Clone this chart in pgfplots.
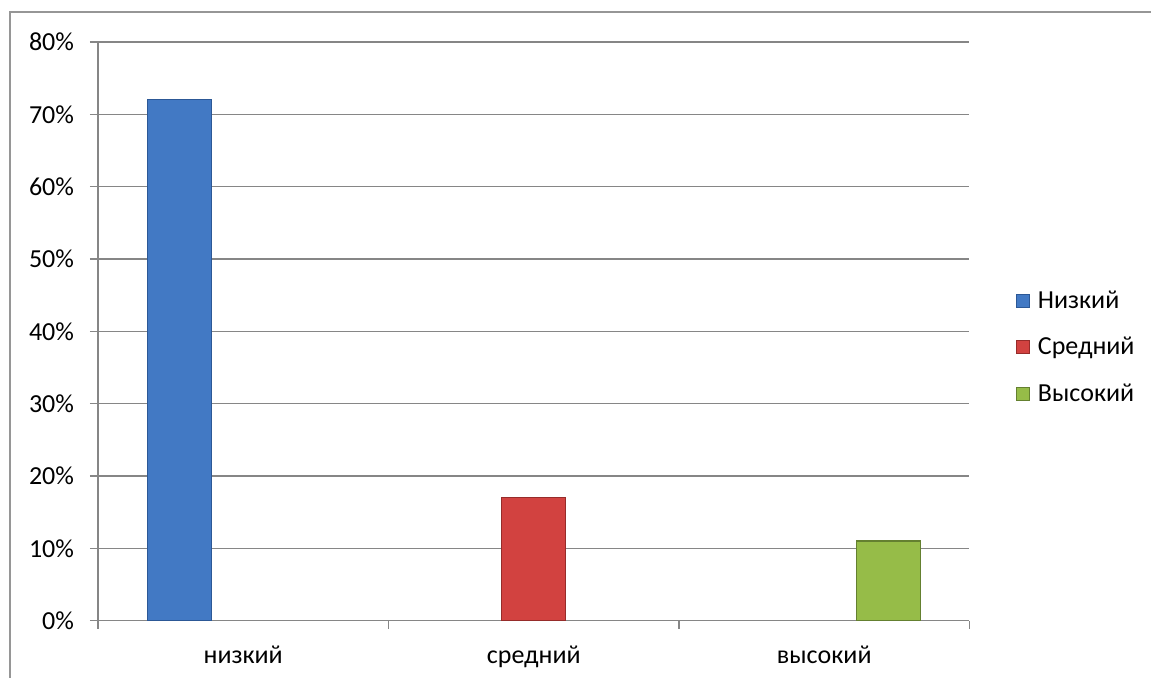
\documentclass[border=0pt]{standalone}
\usepackage{pgfplots}
\pgfplotsset{compat=1.18}
\usepackage{fontspec}
\setmainfont{Carlito}

\definecolor{gridgray}{RGB}{134,134,134}
\definecolor{framegray}{RGB}{150,150,150}
\definecolor{lowfill}{RGB}{66,121,196}
\definecolor{lowedge}{RGB}{44,88,150}
\definecolor{midfill}{RGB}{210,66,64}
\definecolor{midedge}{RGB}{150,44,42}
\definecolor{highfill}{RGB}{150,188,72}
\definecolor{highedge}{RGB}{100,128,48}

\begin{document}
\begin{tikzpicture}
\begin{axis}[
    width=436bp, height=289.5bp, scale only axis,
    font=\fontsize{13bp}{15bp}\selectfont,
    xmin=0.5, xmax=3.5,
    ymin=0, ymax=80,
    ybar, bar width=0.22,
    axis lines*=left,
    axis line style={gridgray, line width=0.6bp},
    ymajorgrids,
    grid style={gridgray, line width=0.6bp},
    ytick={0,10,...,80},
    yticklabel={\pgfmathprintnumber{\tick}\%},
    /pgf/number format/assume math mode=true,
    xtick={1,2,3},
    xticklabels={низкий, средний, высокий},
    minor xtick={0.5,1.5,2.5,3.5},
    tick align=outside,
    major tick length=4bp,
    minor tick length=4bp,
    major x tick style={draw=none},
    every tick/.style={gridgray, line width=0.6bp},
    minor tick style={gridgray, line width=0.6bp},
    y tick label style={xshift=-4.5bp},
    x tick label style={yshift=-5bp},
    legend style={
        at={(rel axis cs:1,0.5)}, anchor=west, xshift=20bp, yshift=-8bp,
        draw=none, fill=none,
        row sep=9bp,
        font=\fontsize{13bp}{15bp}\selectfont,
        legend cell align=left,
    },
    legend image code/.code={
        \draw[#1, line width=0.5bp] (0bp,-3.2bp) rectangle (6.4bp,3.2bp);
        \path (8.5bp,0bp);
    },
]
\addplot[fill=lowfill, draw=lowedge, line width=0.6bp, bar shift=-0.22]
    coordinates {(1,72)};
\addplot[fill=midfill, draw=midedge, line width=0.6bp, bar shift=0]
    coordinates {(2,17)};
\addplot[fill=highfill, draw=highedge, line width=0.6bp, bar shift=0.22]
    coordinates {(3,11)};
\legend{Низкий, Средний, Высокий}
\coordinate (sw) at (rel axis cs:0,0);
\coordinate (ne) at (rel axis cs:1,1);
\end{axis}
\draw[framegray, line width=0.6bp]
    ([shift={(-44bp,-28.5bp)}]sw) -- ([shift={(-44bp,15bp)}]sw |- ne) -- ([shift={(91bp,15bp)}]ne);
\useasboundingbox ([shift={(-49bp,-28.5bp)}]sw) rectangle ([shift={(91bp,21bp)}]ne);
\end{tikzpicture}
\end{document}
